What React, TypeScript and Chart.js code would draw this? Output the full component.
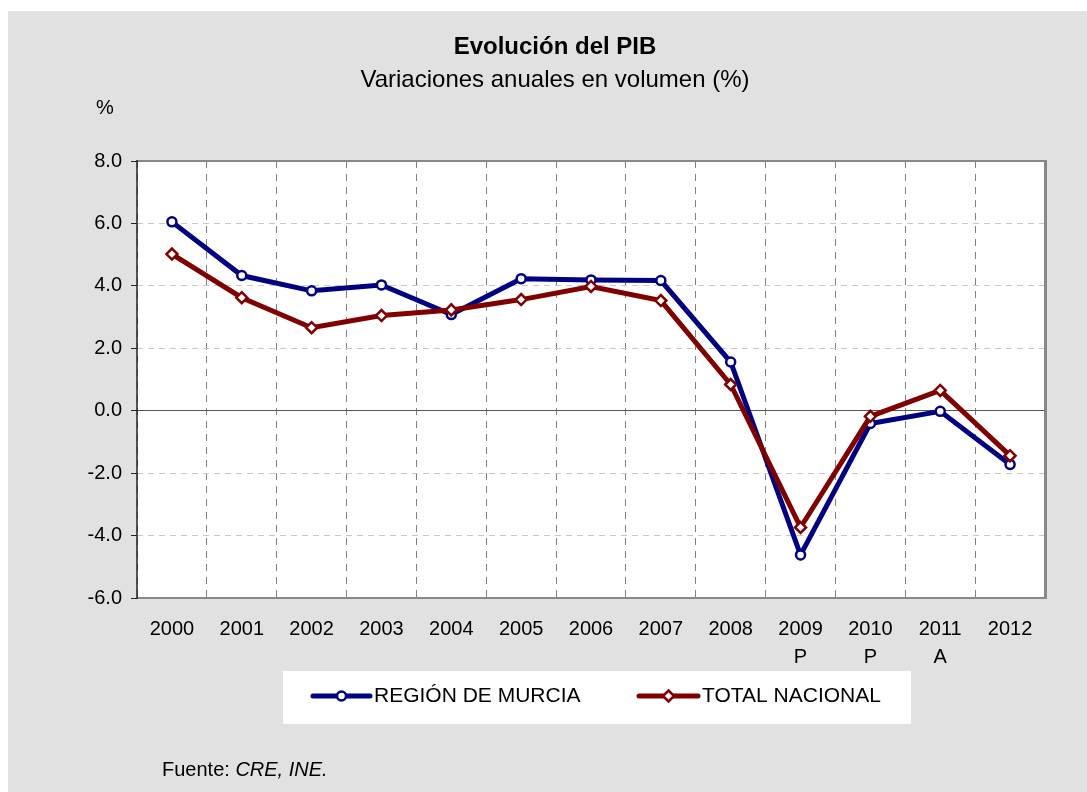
import React, { useEffect, useRef } from "react";
import { Chart, registerables } from "chart.js";

Chart.register(...registerables);

const categories: (string | string[])[] = [
  "2000", "2001", "2002", "2003", "2004", "2005", "2006", "2007", "2008",
  ["2009", "P"], ["2010", "P"], ["2011", "A"], "2012",
];
const murcia = [6.05, 4.33, 3.84, 4.03, 3.08, 4.23, 4.19, 4.17, 1.56, -4.62, -0.41, -0.02, -1.72];
const nacional = [5.02, 3.62, 2.66, 3.05, 3.23, 3.56, 3.98, 3.53, 0.84, -3.74, -0.18, 0.65, -1.44];
const seriesNames = ["REGIÓN DE MURCIA", "TOTAL NACIONAL"];
const yMin = -6;
const yMax = 8;
const yStep = 2;
const titleText = "Evolución del PIB";
const subtitleText = "Variaciones anuales en volumen (%)";
const unitText = "%";
const sourceLabel = "Fuente: ";
const sourceText = "CRE, INE.";

const FONT = "'Liberation Sans', Arial, sans-serif";
const NAVY = "#000080";
const MAROON = "#800000";

function drawMarker(ctx: CanvasRenderingContext2D, style: string, x: number, y: number, r: number, color: string) {
  ctx.save();
  ctx.beginPath();
  if (style === "circle") {
    ctx.arc(x, y, r, 0, Math.PI * 2);
  } else {
    ctx.moveTo(x, y - r);
    ctx.lineTo(x + r, y);
    ctx.lineTo(x, y + r);
    ctx.lineTo(x - r, y);
    ctx.closePath();
  }
  ctx.fillStyle = "#ffffff";
  ctx.fill();
  ctx.lineWidth = 2.5;
  ctx.strokeStyle = color;
  ctx.stroke();
  ctx.restore();
}

const decorPlugin = {
  id: "decor",
  beforeDraw(chart: any) {
    const { ctx, chartArea } = chart;
    ctx.save();
    ctx.fillStyle = "#ffffff";
    ctx.fillRect(chartArea.left, chartArea.top, chartArea.right - chartArea.left, chartArea.bottom - chartArea.top);
    ctx.restore();
  },
  beforeDatasetsDraw(chart: any) {
    const { ctx, chartArea } = chart;
    const { left, top, right, bottom } = chartArea;
    ctx.save();
    ctx.strokeStyle = "#888888";
    ctx.lineWidth = 2;
    ctx.beginPath();
    ctx.moveTo(left, top);
    ctx.lineTo(right, top);
    ctx.stroke();
    ctx.beginPath();
    ctx.moveTo(left, bottom);
    ctx.lineTo(right, bottom);
    ctx.stroke();
    ctx.lineWidth = 3;
    ctx.beginPath();
    ctx.moveTo(right + 0.5, top - 1);
    ctx.lineTo(right + 0.5, bottom + 1);
    ctx.stroke();
    ctx.strokeStyle = "#222222";
    ctx.lineWidth = 1.5;
    ctx.beginPath();
    ctx.moveTo(left, top - 1);
    ctx.lineTo(left, bottom + 1);
    ctx.stroke();
    ctx.restore();
  },
  afterDraw(chart: any) {
    const { ctx } = chart;
    ctx.save();
    ctx.fillStyle = "#000000";
    ctx.textAlign = "center";
    ctx.textBaseline = "middle";
    ctx.font = `bold 24px ${FONT}`;
    ctx.fillText(titleText, 547, 36);
    ctx.font = `24px ${FONT}`;
    ctx.fillText(subtitleText, 547, 69);
    ctx.font = `20px ${FONT}`;
    ctx.fillText(unitText, 97, 97);

    ctx.fillStyle = "#ffffff";
    ctx.fillRect(275, 660, 628, 53);
    const items = [
      { x0: 305, x1: 362, tx: 366, color: NAVY, style: "circle", r: 4.5 },
      { x0: 631, x1: 690, tx: 694, color: MAROON, style: "diamond", r: 5.5 },
    ];
    const ly = 685;
    items.forEach((it, i) => {
      ctx.strokeStyle = it.color;
      ctx.lineWidth = 5;
      ctx.lineCap = "round";
      ctx.beginPath();
      ctx.moveTo(it.x0, ly);
      ctx.lineTo(it.x1, ly);
      ctx.stroke();
      drawMarker(ctx, it.style, (it.x0 + it.x1) / 2, ly, it.r, it.color);
      ctx.fillStyle = "#000000";
      ctx.textAlign = "left";
      ctx.textBaseline = "middle";
      ctx.font = `21px ${FONT}`;
      ctx.fillText(seriesNames[i], it.tx, ly);
    });

    ctx.fillStyle = "#000000";
    ctx.textAlign = "left";
    ctx.font = `20px ${FONT}`;
    ctx.fillText(sourceLabel, 154, 759);
    const w = ctx.measureText(sourceLabel).width;
    ctx.font = `italic 20px ${FONT}`;
    ctx.fillText(sourceText, 154 + w, 759);
    ctx.restore();
  },
};

export default function App() {
  const canvasRef = useRef<HTMLCanvasElement | null>(null);

  useEffect(() => {
    const canvas = canvasRef.current;
    if (!canvas) return;
    const chart = new Chart(canvas, {
      type: "line",
      data: {
        labels: categories,
        datasets: [
          {
            label: seriesNames[0],
            data: murcia,
            borderColor: NAVY,
            backgroundColor: NAVY,
            borderWidth: 5,
            pointStyle: "circle",
            pointRadius: 4.5,
            pointBorderWidth: 2.5,
            pointBackgroundColor: "#ffffff",
            pointBorderColor: NAVY,
            tension: 0,
            order: 1,
          },
          {
            label: seriesNames[1],
            data: nacional,
            borderColor: MAROON,
            backgroundColor: MAROON,
            borderWidth: 5,
            pointStyle: "rectRot",
            pointRadius: 5.5,
            pointBorderWidth: 2.5,
            pointBackgroundColor: "#ffffff",
            pointBorderColor: MAROON,
            tension: 0,
            order: 0,
          },
        ],
      },
      options: {
        responsive: false,
        animation: false,
        devicePixelRatio: 1,
        layout: { padding: { top: 150, right: 42, bottom: 0, left: 0 } },
        plugins: {
          legend: { display: false },
          title: { display: false },
          tooltip: { enabled: false },
        },
        scales: {
          x: {
            type: "category",
            offset: true,
            grid: {
              offset: true,
              color: "#808080",
              lineWidth: 1,
              drawTicks: false,
            },
            border: { display: false, dash: [7, 6] },
            ticks: {
              color: "#000000",
              font: { family: FONT, size: 20, lineHeight: 1.4 },
              padding: 17,
              maxRotation: 0,
              autoSkip: false,
            },
            afterFit: (scale: any) => {
              scale.height = 194;
            },
          },
          y: {
            min: yMin,
            max: yMax,
            grid: {
              color: (c: any) => (c.tick && c.tick.value === 0 ? "#555555" : "#c8c8c8"),
              lineWidth: 1,
              tickLength: 6,
              tickColor: "#222222",
              tickBorderDash: [],
            },
            border: {
              display: false,
              dash: (c: any) => (c.tick && c.tick.value === 0 ? [] : [6, 5]),
            },
            ticks: {
              stepSize: yStep,
              color: "#000000",
              font: { family: FONT, size: 20 },
              padding: 9,
              callback: (v: any) => Number(v).toFixed(1),
            },
            afterFit: (scale: any) => {
              scale.width = 129;
            },
          },
        },
      },
      plugins: [decorPlugin],
    } as any);
    return () => chart.destroy();
  }, []);

  return (
    <div
      style={{
        position: "fixed",
        left: 8,
        top: 11,
        width: 1079,
        height: 781,
        background: "#e1e1e1",
      }}
    >
      <canvas ref={canvasRef} width={1079} height={781} style={{ display: "block" }} />
    </div>
  );
}
